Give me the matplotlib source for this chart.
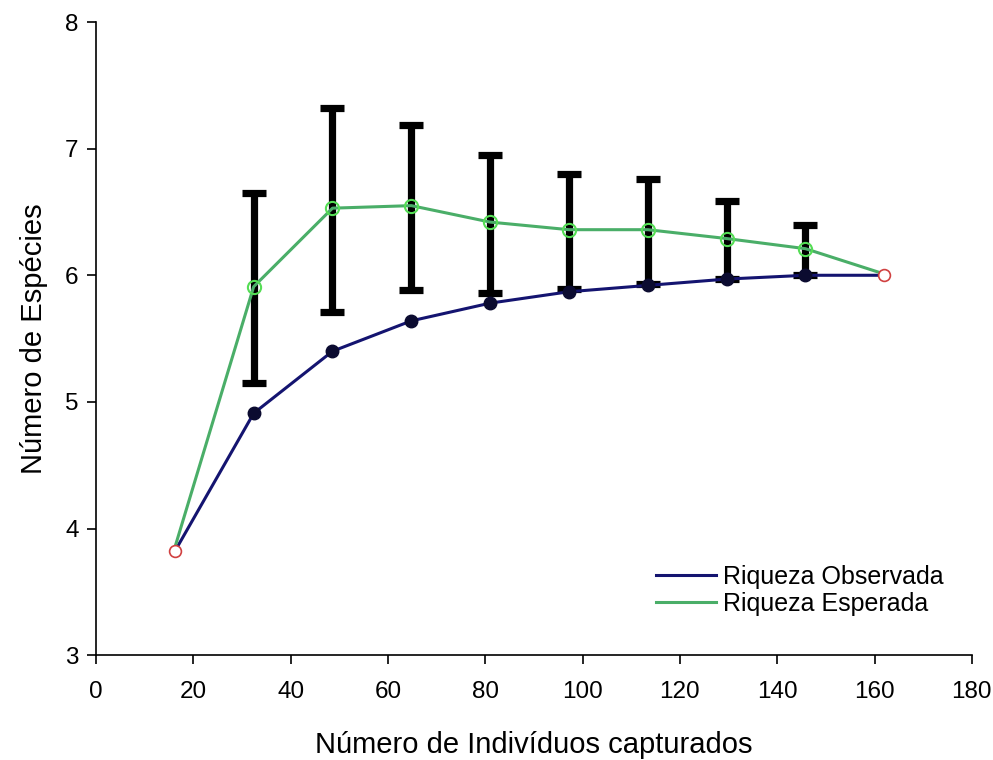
import matplotlib
matplotlib.use("Agg")
import matplotlib.pyplot as plt
import numpy as np

plt.rcParams['font.family'] = ['Liberation Sans', 'DejaVu Sans']

individuos = [16.2, 32.4, 48.6, 64.8, 81.0, 97.2, 113.4, 129.6, 145.8, 162.0]
riqueza_obs = [3.82, 4.91, 5.40, 5.64, 5.78, 5.87, 5.92, 5.97, 6.00, 6.00]
riqueza_esp = [3.85, 5.91, 6.53, 6.55, 6.42, 6.36, 6.36, 6.29, 6.21, 6.01]
ic_inferior = [None, 5.15, 5.71, 5.88, 5.86, 5.89, 5.93, 5.97, 6.00, None]
ic_superior = [None, 6.65, 7.32, 7.19, 6.95, 6.80, 6.76, 6.59, 6.40, None]

fig = plt.figure(figsize=(9.93, 7.6), dpi=100)
ax = fig.add_axes([0.0967, 0.138, 0.882, 0.833])

# error bars (only where intervals exist)
eb_x, eb_y, eb_lo, eb_hi = [], [], [], []
for x, y, lo, hi in zip(individuos, riqueza_esp, ic_inferior, ic_superior):
    if lo is not None:
        eb_x.append(x); eb_y.append(y)
        eb_lo.append(y - lo); eb_hi.append(hi - y)
ax.errorbar(eb_x, eb_y, yerr=[eb_lo, eb_hi], fmt='none', ecolor='black',
            elinewidth=5.2, capsize=8.5, capthick=5.2, zorder=2)

ax.plot(individuos, riqueza_obs, color='#141470', lw=2.2, zorder=3,
        label='Riqueza Observada')
ax.plot(individuos[1:-1], riqueza_obs[1:-1], 'o', color='#0b0b30', ms=9, zorder=4)

ax.plot(individuos, riqueza_esp, color='#4aae68', lw=2.2, zorder=5,
        label='Riqueza Esperada')
ax.plot(individuos[1:-1], riqueza_esp[1:-1], 'o', mfc='none', mec='#55dd55',
        mew=1.5, ms=9.5, zorder=6)
ax.plot([individuos[0], individuos[-1]], [riqueza_obs[0], riqueza_obs[-1]], 'o',
        mfc='white', mec='#d04040', mew=1.2, ms=8.5, zorder=6)

ax.set_xlim(0, 180)
ax.set_ylim(3, 8)
ax.set_xticks(np.arange(0, 181, 20))
ax.set_yticks(np.arange(3, 9, 1))
ax.spines['top'].set_visible(False)
ax.spines['right'].set_visible(False)
ax.tick_params(direction='out', length=6.5, width=1.2, labelsize=17.5)
ax.tick_params(axis='x', pad=12)
ax.tick_params(axis='y', pad=6)
for s in ['left', 'bottom']:
    ax.spines[s].set_linewidth(1.2)

ax.set_xlabel('Número de Indivíduos capturados', fontsize=21, labelpad=20)
ax.set_ylabel('Número de Espécies', fontsize=21, labelpad=12)

leg = ax.legend(loc='upper left', bbox_to_anchor=(0.628, 0.158), frameon=False,
                fontsize=18, handlelength=2.4, handletextpad=0.28,
                labelspacing=0.12, borderaxespad=0)

fig.savefig('out.png', dpi=100)
